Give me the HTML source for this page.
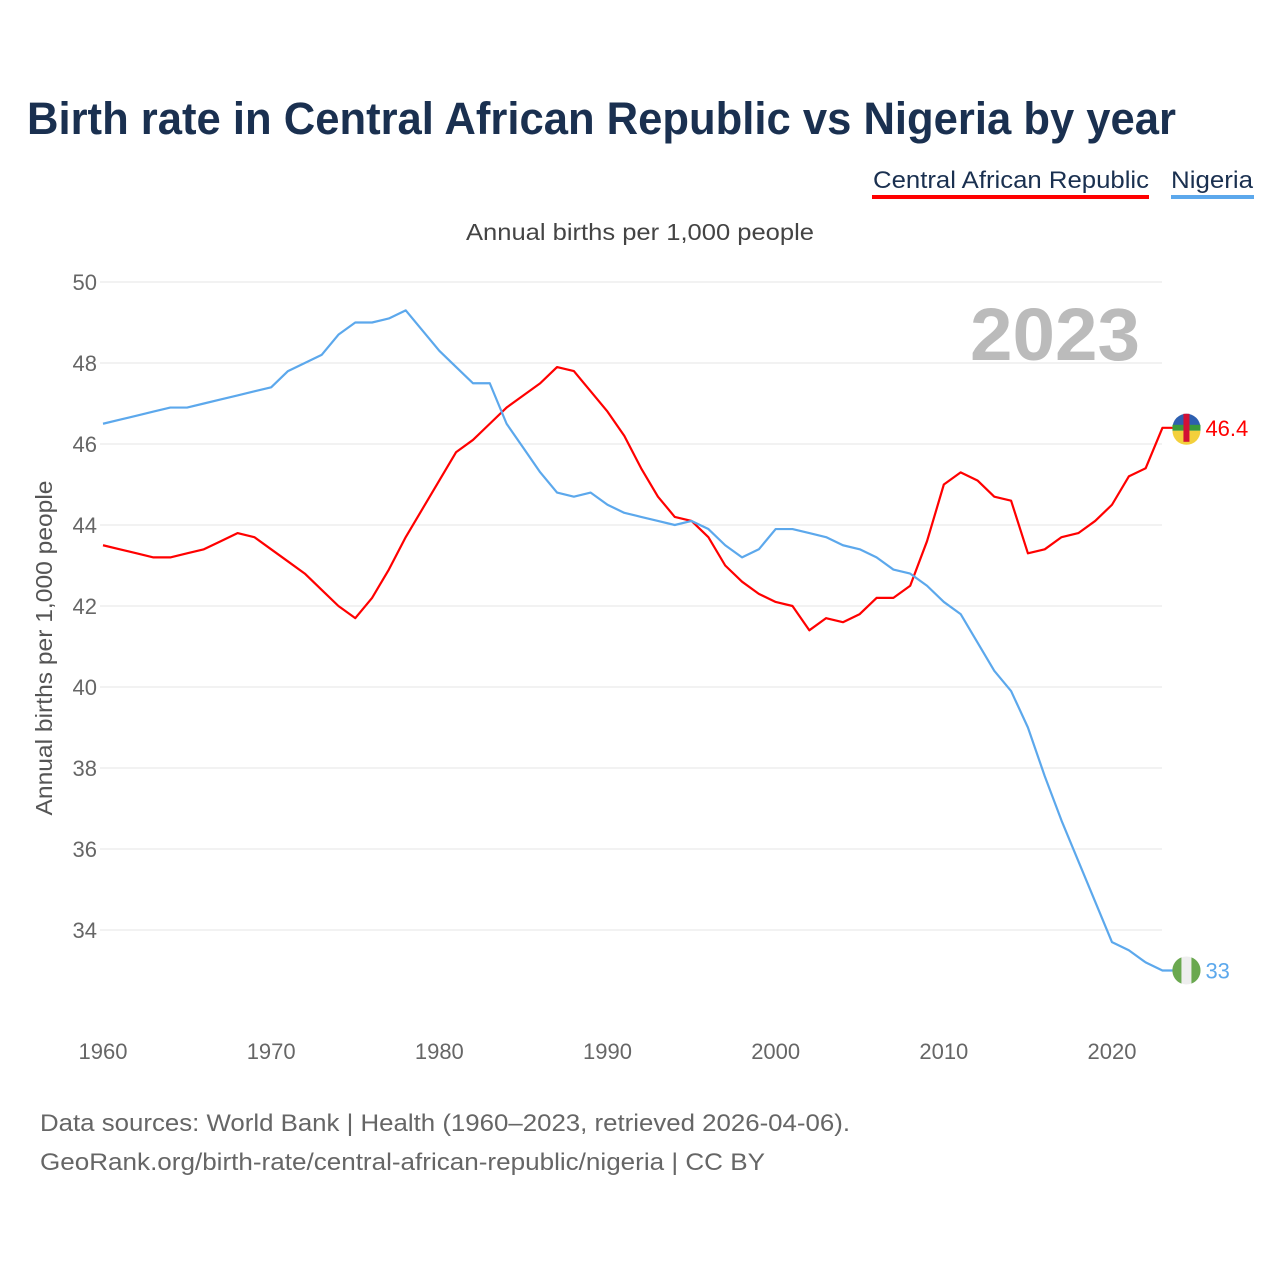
<!DOCTYPE html>
<html><head><meta charset="utf-8">
<style>
body{margin:0;background:#fff;font-family:"Liberation Sans",sans-serif;}
svg text{font-family:"Liberation Sans",sans-serif;}
</style></head>
<body>
<svg id="chart" width="1280" height="1280" viewBox="0 0 1280 1280">
<text x="27" y="134" font-size="45" font-weight="bold" fill="#1a3050" textLength="1149" lengthAdjust="spacingAndGlyphs">Birth rate in Central African Republic vs Nigeria by year</text>
<g>
<text x="873" y="188" font-size="24" fill="#1a3050" textLength="276" lengthAdjust="spacingAndGlyphs">Central African Republic</text>
<rect x="872" y="195" width="277" height="4" fill="#ff0000"/></g>
<g>
<text x="1171" y="188" font-size="24" fill="#1a3050" textLength="82" lengthAdjust="spacingAndGlyphs">Nigeria</text>
<rect x="1171" y="195" width="83" height="4" fill="#5ca8ec"/></g>
<text x="466" y="240" font-size="23" fill="#444" textLength="348" lengthAdjust="spacingAndGlyphs">Annual births per 1,000 people</text>
<text x="52" y="648" font-size="23" fill="#555" text-anchor="middle" textLength="335" lengthAdjust="spacingAndGlyphs" transform="rotate(-90 52 648)">Annual births per 1,000 people</text>
<text x="1140" y="360" font-size="74" font-weight="bold" fill="#bbbbbb" text-anchor="end" textLength="170" lengthAdjust="spacingAndGlyphs">2023</text>
<g id="grid"></g><g id="xt"></g><g id="lines"></g>
<text x="40" y="1131" font-size="24" fill="#666" textLength="810" lengthAdjust="spacingAndGlyphs">Data sources: World Bank | Health (1960–2023, retrieved 2026-04-06).</text>
<text x="40" y="1170" font-size="24" fill="#666" textLength="725" lengthAdjust="spacingAndGlyphs">GeoRank.org/birth-rate/central-african-republic/nigeria | CC BY</text>
</svg>
<script>
const years=[];for(let y=1960;y<=2023;y++)years.push(y);
const carValues=[43.5,43.4,43.3,43.2,43.2,43.3,43.4,43.6,43.8,43.7,43.4,43.1,42.8,42.4,42.0,41.7,42.2,42.9,43.7,44.4,45.1,45.8,46.1,46.5,46.9,47.2,47.5,47.9,47.8,47.3,46.8,46.2,45.4,44.7,44.2,44.1,43.7,43.0,42.6,42.3,42.1,42.0,41.4,41.7,41.6,41.8,42.2,42.2,42.5,43.6,45.0,45.3,45.1,44.7,44.6,43.3,43.4,43.7,43.8,44.1,44.5,45.2,45.4,46.4];
const nigeriaValues=[46.5,46.6,46.7,46.8,46.9,46.9,47.0,47.1,47.2,47.3,47.4,47.8,48.0,48.2,48.7,49.0,49.0,49.1,49.3,48.8,48.3,47.9,47.5,47.5,46.5,45.9,45.3,44.8,44.7,44.8,44.5,44.3,44.2,44.1,44.0,44.1,43.9,43.5,43.2,43.4,43.9,43.9,43.8,43.7,43.5,43.4,43.2,42.9,42.8,42.5,42.1,41.8,41.1,40.4,39.9,39.0,37.8,36.7,35.7,34.7,33.7,33.5,33.2,33.0];
const yTicks=[34,36,38,40,42,44,46,48,50];
const xTicks=[1960,1970,1980,1990,2000,2010,2020];
const X=y=>103+(y-1960)*1009/60;
const Y=v=>282+(50-v)*40.5;
const NS="http://www.w3.org/2000/svg";
function mk(t,a,p){const e=document.createElementNS(NS,t);for(const k in a)e.setAttribute(k,a[k]);p.appendChild(e);return e;}
const g=document.getElementById('grid');
yTicks.forEach(v=>{
 const l=mk('line',{x1:100,x2:1162,y1:Y(v),y2:Y(v),stroke:'#e6e6e6','stroke-width':1},g);
 
 
 const t=mk('text',{x:97,y:Y(v)+8,'font-size':22,fill:'#666','text-anchor':'end'},g);t.textContent=v;
 
 
});
const xt=document.getElementById('xt');
xTicks.forEach(v=>{
 const t=mk('text',{x:X(v),y:1059,'font-size':22,fill:'#666','text-anchor':'middle'},xt);t.textContent=v;
 
 
});
const L=document.getElementById('lines');
function series(vals,color,name,label){
 const pts=vals.map((v,i)=>X(years[i])+','+Y(v));
 const last=vals[vals.length-1];
 pts.push((X(2023)+24)+','+Y(last));
 const p=mk('polyline',{points:pts.join(' '),fill:'none',stroke:color,'stroke-width':2.2,'stroke-linejoin':'round'},L);
 
 
 const c=mk('circle',{cx:X(2023)+24,cy:Y(last),r:14,fill:'#eee'},L);
 
 
 const t=mk('text',{x:X(2023)+43,y:Y(last)+8,'font-size':22,fill:color},L);t.textContent=label(last);
 
 
 return c;
}
const cx=X(2023)+24;
const c1=series(carValues,'#ff0000','car',v=>v.toFixed(1));
const cy1=Y(carValues[63]);
mk('path',{d:`M${cx-14},${cy1} a14,14 0 0 1 28,0 z`,fill:'#2d5fb0'},L);
mk('rect',{x:cx-14,y:cy1-3,width:28,height:6,fill:'#3a9a3a'},L);
mk('path',{d:`M${cx-14},${cy1+3} a14,14 0 0 0 28,0 z`,fill:'#f3d03c'},L);
mk('rect',{x:cx-3,y:cy1-14,width:6,height:28,fill:'#d21034'},L);
const c2=series(nigeriaValues,'#5ca8ec','nigeria',v=>Math.round(v).toString());
const cy2=Y(nigeriaValues[63]);
mk('path',{d:`M${cx-5},${cy2-13.1} a14,14 0 0 0 0,26.2 z`,fill:'#6aa84f'},L);
mk('path',{d:`M${cx+5},${cy2-13.1} a14,14 0 0 1 0,26.2 z`,fill:'#6aa84f'},L);
</script>
</body></html>
